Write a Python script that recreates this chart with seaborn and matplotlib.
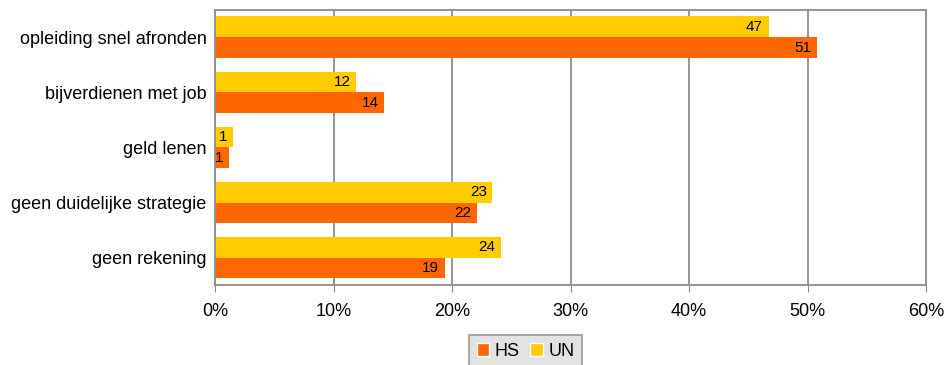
import pandas as pd
import matplotlib.pyplot as plt
import seaborn as sns
from matplotlib.patches import Patch
from matplotlib.ticker import PercentFormatter

# categorieen en waarden (in %)
categories = ['opleiding snel afronden', 'bijverdienen met job', 'geld lenen',
              'geen duidelijke strategie', 'geen rekening']
un_values = [46.7, 11.9, 1.5, 23.4, 24.1]
hs_values = [50.8, 14.3, 1.2, 22.1, 19.4]
un_labels = [47, 12, 1, 23, 24]
hs_labels = [51, 14, 1, 22, 19]

kleuren = {'HS': '#FF6600', 'UN': '#FFCC00'}

data = pd.DataFrame({
    'categorie': categories * 2,
    'reeks': ['UN'] * len(categories) + ['HS'] * len(categories),
    'waarde': un_values + hs_values,
})

sns.set_style('white')
plt.rcParams['font.family'] = ['Liberation Sans', 'DejaVu Sans']
plt.rcParams['text.color'] = 'black'

fig = plt.figure(figsize=(9.47, 3.65), dpi=100)
ax = fig.add_axes([0.227, 0.219, 0.751, 0.754])

sns.barplot(data=data, y='categorie', x='waarde', hue='reeks', hue_order=['UN', 'HS'],
            order=categories, palette=kleuren, width=0.76, saturation=1,
            edgecolor='none', ax=ax, legend=False)

# labels binnen in de balken, rechts uitgelijnd
for container, labels in zip(ax.containers, [un_labels, hs_labels]):
    teksten = ax.bar_label(container, labels=[str(v) for v in labels], padding=-4,
                           fontsize=11, color='black')
    for t in teksten:
        t.set_ha('right')

ax.set_xlim(0, 60)
ax.set_xticks(range(0, 61, 10))
ax.xaxis.set_major_formatter(PercentFormatter(decimals=0))
ax.grid(axis='x', color='#8c8c8c', linewidth=1.3)
ax.set_axisbelow(True)
ax.set_xlabel('')
ax.set_ylabel('')
ax.tick_params(axis='x', labelsize=13, length=5, color='#8c8c8c', labelcolor='black',
               bottom=True, pad=8)
ax.tick_params(axis='y', labelsize=13, length=0, pad=6, labelcolor='black')
for spine in ax.spines.values():
    spine.set_color('#8c8c8c')
    spine.set_linewidth(1.3)

handles = [Patch(facecolor=kleuren['HS']), Patch(facecolor=kleuren['UN'])]
leg = fig.legend(handles, ['HS', 'UN'], loc='lower center', bbox_to_anchor=(0.555, -0.03),
                 ncol=2, frameon=True, fancybox=False, fontsize=13,
                 handlelength=0.7, handleheight=0.7, handletextpad=0.3,
                 columnspacing=0.6, borderpad=0.4)
leg.get_frame().set_facecolor('#DDDDDD')
leg.get_frame().set_edgecolor('#8c8c8c')
leg.get_frame().set_linewidth(1.3)
for t in leg.get_texts():
    t.set_color('black')

plt.savefig('out.png', dpi=100)
